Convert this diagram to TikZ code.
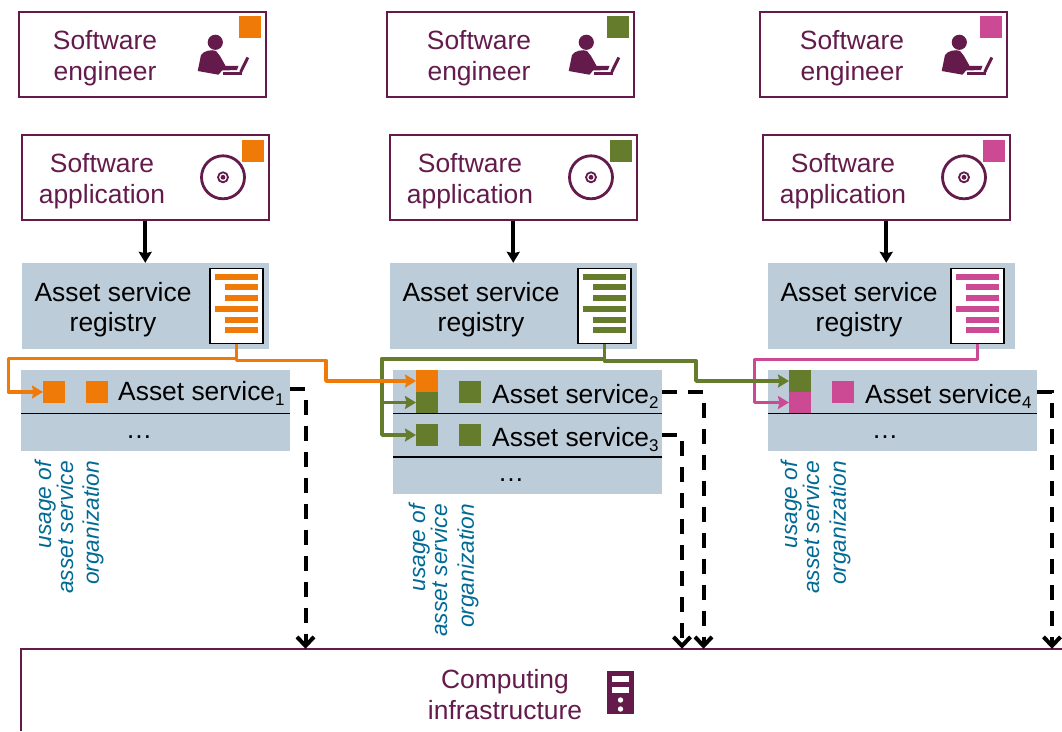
\documentclass[tikz,border=0pt]{standalone}
\usepackage{fontspec}
\setmainfont{Liberation Sans}
\usetikzlibrary{arrows.meta,calc}
\definecolor{purp}{HTML}{641B4B}
\definecolor{greyb}{HTML}{BDCCD9}
\definecolor{orng}{HTML}{EF7A08}
\definecolor{grn}{HTML}{647C2B}
\definecolor{pnk}{HTML}{CC4A93}
\definecolor{teal2}{HTML}{006A94}
\newcommand{\bigf}{\fontsize{26.4}{30.4}\selectfont}
\newcommand{\assetlbl}[1]{Asset service\raisebox{-5pt}{\fontsize{17}{17}\selectfont #1}}
\tikzset{
  x=1pt,y=-1pt,
  actor/.style={draw=purp,line width=2pt,fill=white,minimum width=247pt,minimum height=85pt,inner sep=0pt},
  purptext/.style={text=purp,align=center,font=\bigf,inner sep=0pt},
  blacktext/.style={text=black,align=center,font=\bigf,inner sep=0pt},
  greybox/.style={fill=greyb,inner sep=0pt},
  sq/.style={minimum size=22pt,inner sep=0pt,outer sep=0pt},
  docbox/.style={draw=black,line width=1.6pt,fill=white,minimum width=53pt,minimum height=75pt,inner sep=0pt},
  useline/.style={line width=3.6pt,line join=round,-{Stealth[length=11pt,width=13pt,inset=1.5pt]}},
  reqarrow/.style={draw=black,line width=3.8pt,-{Stealth[length=11pt,width=13pt,inset=1.5pt]}},
  sepline/.style={draw=black,line width=1.6pt},
  deploy/.style={draw=black,line width=4pt,dash pattern=on 15pt off 11pt,-{Straight Barb[length=9pt,width=17pt,line width=4pt]}},
  orglabel/.style={text=teal2,font=\fontsize{22.7}{19}\selectfont\itshape,rotate=90,anchor=east,align=right,inner sep=0pt},
}
\begin{document}
\begin{tikzpicture}
\path[use as bounding box] (0,0) rectangle (1062,731);
% columns of actors
\foreach \i/\col/\ea/\et/\eh/\aa/\rb/\rt/\ax in {1/orng/0/0/0/0/0/0/0,2/grn/368/374/371/368/367.5/368/368,3/pnk/741/747/744/741/746/746/740}{
  \node[actor] (eng\i) at (142.3+\ea,54) {};
  \node[purptext] (engt\i) at (105+\et,58) {Software\\engineer};
  \node[sq,fill=\col] (engs\i) at (250+\ea,27) {};
  % person icon
  \begin{scope}[xshift=\eh pt]
    \fill[purp] (215.3,42.3) circle (7.6);
    \fill[purp] (197.7,71) -- (201,55) .. controls (203,51) and (212,49) .. (216,51)
      -- (220,56) -- (225.5,65.8) -- (238.5,65.8) -- (237,70) -- (222,70.5) -- (218.5,74.7) -- cycle;
    \draw[purp,line width=3pt] (240.7,72) -- (247.8,57.5);
    \fill[purp] (222.7,71.8) rectangle (242,75.4);
  \end{scope}
  \node[actor] (app\i) at (145.25+\aa,177.5) {};
  \node[purptext] (appt\i) at (102+\aa,181) {Software\\application};
  \node[sq,fill=\col] (apps\i) at (253+\aa,151) {};
  \node[circle,draw=purp,line width=2.8pt,minimum size=43pt,inner sep=0pt] (cd\i) at (223+\aa,177.3) {};
  \draw[purp,line width=1.8pt] (cd\i.center) circle (5);
  \fill[purp] (cd\i.center) circle (2.4);
  \node[greybox,minimum width=247pt,minimum height=86pt] (reg\i) at (145.5+\rb,306) {};
  \node[blacktext] (regt\i) at (113+\rt,309.5) {Asset service\\registry};
  \node[docbox] (doc\i) at (236.5+\aa,306) {};
  \foreach \yy/\xl in {277/215,287/225,298/225,309/215,320/225,330/225}{
    \fill[\col] (\xl+\aa,\yy-3) rectangle (258+\aa,\yy+3);
  }
  \draw[reqarrow] (app\i.south) -- (app\i.south |- reg\i.north);
}
% asset service boxes
\node[greybox,minimum width=269pt,minimum height=81pt] (svcA) at (155.5,410.5) {};
\node[greybox,minimum width=269pt,minimum height=124pt] (svcB) at (527.5,432) {};
\node[greybox,minimum width=269pt,minimum height=81pt] (svcC) at (902.5,410.5) {};
\draw[sepline] (21,413.5) -- (290,413.5);
\draw[sepline] (393,413.5) -- (662,413.5);
\draw[sepline] (393,456.7) -- (662,456.7);
\draw[sepline] (768,413.5) -- (1037,413.5);
% squares
\node[sq,fill=orng] (a1) at (54,392) {};
\node[sq,fill=orng] (a2) at (97,392) {};
\node[sq,fill=orng] (b1) at (427,381) {};
\node[sq,fill=grn,minimum height=21.5pt] (b2) at (427,402.5) {};
\node[sq,fill=grn] (b3) at (470,392) {};
\node[sq,fill=grn] (b4) at (427,435) {};
\node[sq,fill=grn] (b5) at (470,435) {};
\node[sq,fill=grn] (c1) at (800,381) {};
\node[sq,fill=pnk,minimum height=21.5pt] (c2) at (800,402.5) {};
\node[sq,fill=pnk] (c3) at (843,392) {};
% texts
\node[blacktext,anchor=base west] (la) at (118,400) {\assetlbl{1}};
\node[blacktext,anchor=base west] (lb) at (492,403) {\assetlbl{2}};
\node[blacktext,anchor=base west] (lc) at (492,446) {\assetlbl{3}};
\node[blacktext,anchor=base west] (ld) at (865,403) {\assetlbl{4}};
\node[blacktext,anchor=base] (da) at (139,438) {…};
\node[blacktext,anchor=base] (db) at (511,481) {…};
\node[blacktext,anchor=base] (dc) at (885,438) {…};
% organisation labels
\node[orglabel] (ua) at (54,461) {usage of\\asset service};
\node[orglabel] (oa) at (93,461) {organization};
\node[orglabel] (ub) at (428,504) {usage of\\asset service};
\node[orglabel] (ob) at (468,504) {organization};
\node[orglabel] (uc) at (800,461) {usage of\\asset service};
\node[orglabel] (oc) at (840,461) {organization};
% computing infrastructure
\node[inner sep=0pt,minimum width=1040pt,minimum height=82pt] (infra) at (541.5,690) {};
\draw[purp,line width=2pt] (infra.south west) -- (infra.north west) -- (infra.north east);
\node[purptext] (infrat) at (505,694.5) {Computing\\infrastructure};
\node[fill=purp,minimum width=27pt,minimum height=43pt,inner sep=0pt] (srv) at (620.5,692.5) {};
\fill[white] (612,676) rectangle (629,682);
\fill[white] (612,687) rectangle (629,693);
\fill[white] (620.5,700) circle (2.7);
\fill[white] (620.5,709) circle (2.7);
% usage connectors
\draw[pnk,useline] (doc3.south) -- ++(0,15) -- ++(-223,0) |- (c2.west);
\draw[grn,useline] (doc2.south) -- ++(0,14.5) -- ++(-222.5,0) |- (b2.west);
\draw[grn,useline] (doc2.south) -- ++(0,14.5) -- ++(-222.5,0) |- (b4.west);
\draw[grn,useline] (doc2.south) -- ++(0,16.5) -- ++(91.5,0) |- (c1.west);
\draw[orng,useline] (doc1.south) -- ++(0,14) -- ++(-228,0) |- (a1.west);
\draw[orng,useline] (doc1.south) -- ++(0,16) -- ++(89.5,0) |- (b1.west);
% deployment connectors
\coordinate (ta) at (305.5,389);
\coordinate (tb) at (703.5,392);
\coordinate (tc) at (682,435);
\coordinate (td) at (1052,392);
\draw[deploy] (svcA.east |- ta) -- (ta) -- (ta |- infra.north);
\draw[deploy] (svcB.east |- tb) -- (tb) -- (tb |- infra.north);
\draw[deploy] (svcB.east |- tc) -- (tc) -- (tc |- infra.north);
\draw[deploy] (svcC.east |- td) -- (td) -- (td |- infra.north);
\end{tikzpicture}
\end{document}
